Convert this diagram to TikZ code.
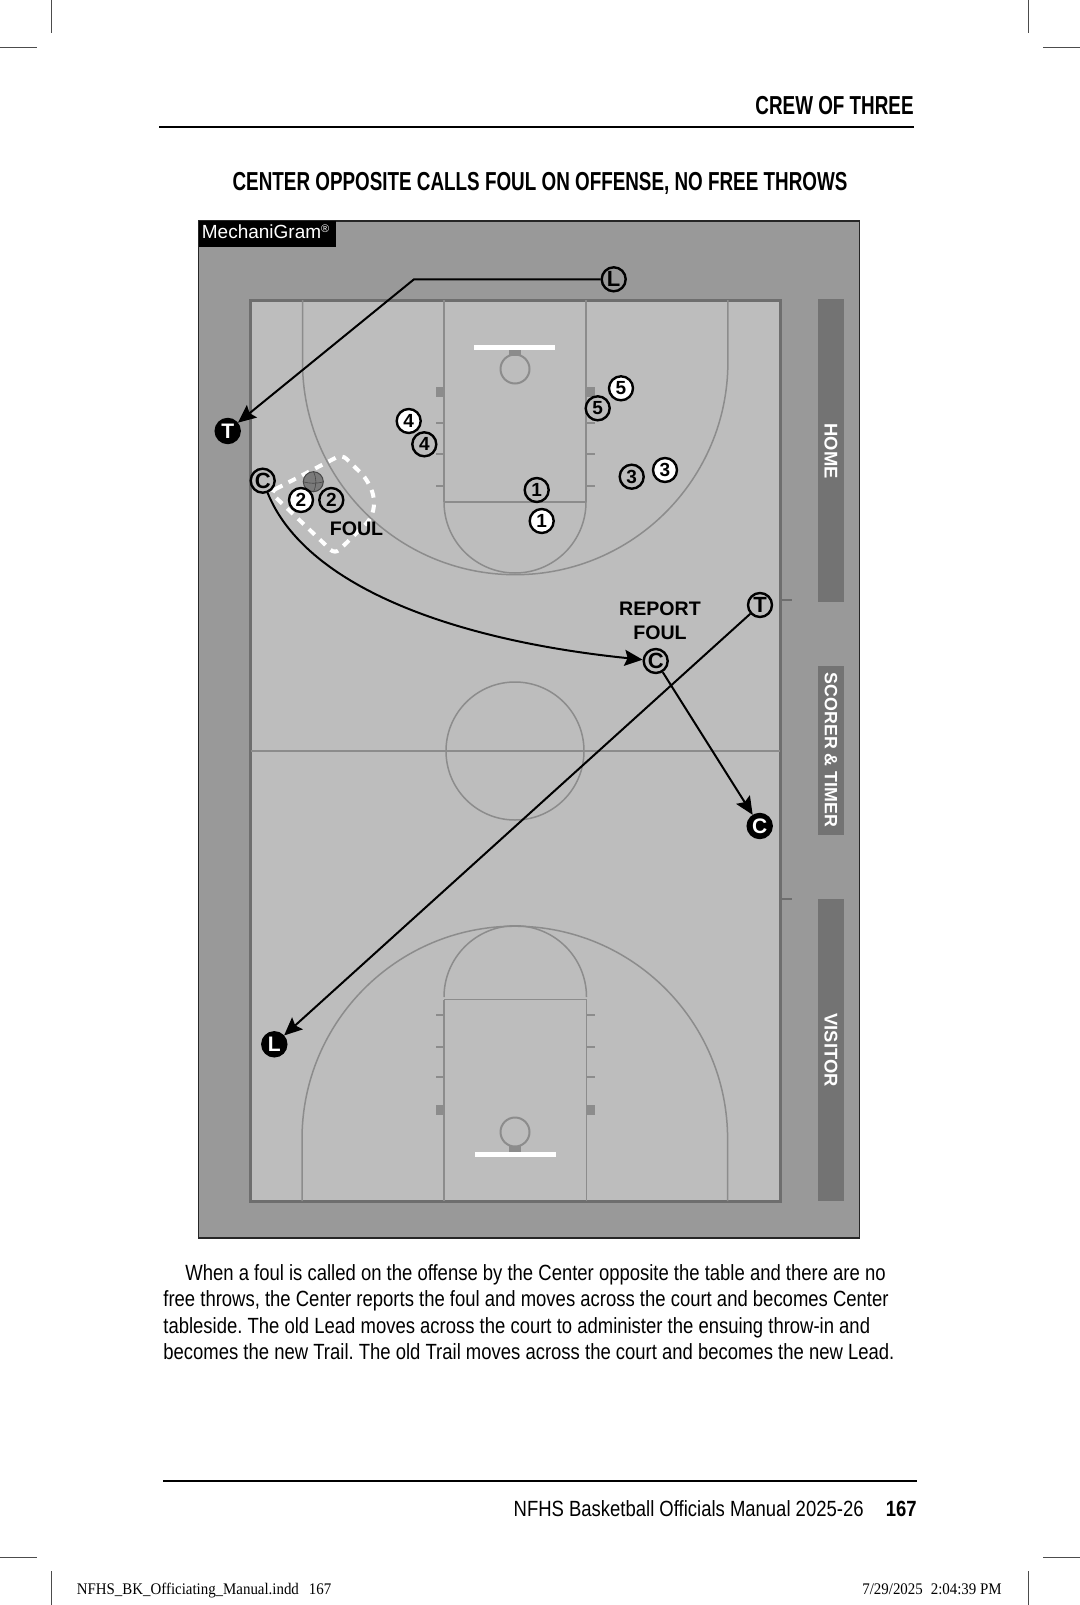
\documentclass[tikz,border=0pt]{standalone}
\usepackage{fontspec}
\usetikzlibrary{arrows.meta}
\setmainfont{Liberation Sans}
\newfontfamily\headfont[FakeStretch=0.725]{Liberation Sans}
\newfontfamily\condfont[FakeStretch=0.84]{Liberation Sans}
\newfontfamily\slugfont[FakeStretch=0.92]{Liberation Serif}
\definecolor{panelgray}{HTML}{999999}
\definecolor{courtgray}{HTML}{BDBDBD}
\definecolor{edgegray}{HTML}{6E6E6E}
\definecolor{linegray}{HTML}{8C8C8C}
\definecolor{bargray}{HTML}{737373}
\frenchspacing

\begin{document}
\begin{tikzpicture}[x=0.5pt,y=-0.5pt,>={Stealth[length=9pt,width=8pt,inset=1.5pt]}]
			\tikzstyle{openmark}=[circle,draw=black,line width=1.2pt,minimum size=12pt,inner sep=0pt,font=\bfseries\fontsize{9.5}{9.5}\selectfont]
			\tikzstyle{whitemark}=[openmark,fill=white]
			\tikzstyle{openletter}=[openmark,font=\bfseries\fontsize{11}{11}\selectfont]
			\tikzstyle{blackmark}=[openmark,fill=black,text=white,font=\bfseries\fontsize{10.5}{10.5}\selectfont]
			\tikzstyle{courtline}=[draw=linegray,line width=0.75pt]
			\tikzstyle{block}=[fill=linegray,draw=none]
			\tikzstyle{board}=[fill=white,draw=none]
			\tikzstyle{barlabel}=[text=white,rotate=-90,font=\bfseries\fontsize{9.2}{9.2}\selectfont]
			\tikzstyle{calllabel}=[font=\bfseries\fontsize{9.8}{11.8}\selectfont,align=center]
			\tikzstyle{bodyline}=[anchor=base west,inner sep=0pt,font=\condfont\fontsize{11}{13}\selectfont]
			\tikzstyle{headline}=[anchor=base,inner sep=0pt,font=\headfont\bfseries\fontsize{13}{15}\selectfont]
			\tikzstyle{footline}=[anchor=base east,inner sep=0pt,font=\condfont\fontsize{11}{13}\selectfont]
			\tikzstyle{slugline}=[anchor=base west,inner sep=0pt,font=\slugfont\fontsize{8.1}{9}\selectfont]
			\tikzstyle{trim}=[draw=black!70,line width=0.3pt]
			\tikzstyle{move}=[draw=black,line width=1pt]
			\useasboundingbox (0,0) rectangle (1080,1605);
			\fill[white] (0,0) rectangle (1080,1605);
			% trim marks
			\draw[trim] (51,0) -- (51,33) (1028,0) -- (1028,33) (0,47) -- (37,47) (1043,47) -- (1080,47);
			\draw[trim] (51,1571) -- (51,1605) (1028,1571) -- (1028,1605) (0,1557) -- (37,1557) (1043,1557) -- (1080,1557);
			% page head
			\node[headline,anchor=base east] (crew) at (914,115) {CREW OF THREE};
			\draw[line width=1.2pt] (159,127) -- (914,127);
			\node[headline] (title) at (540,191) {CENTER OPPOSITE CALLS FOUL ON OFFENSE, NO FREE THROWS};
			% floor
			\draw[fill=panelgray,draw=black!85,line width=0.6pt] (198.5,221) rectangle (859.5,1238);
			\draw[fill=courtgray,draw=edgegray,line width=1.5pt] (250.7,300) rectangle (780,1201);
			\node[fill=black,text=white,anchor=north west,text width=65.5pt,align=left,inner xsep=1.5pt,inner ysep=0pt,minimum height=13pt,text height=8pt,text depth=3.5pt,font=\fontsize{9.5}{9.5}\selectfont] (logo) at (198.5,221) {MechaniGram\raisebox{3.2pt}{\fontsize{5.5}{5.5}\selectfont ®}};
			% side bars
			\fill[bargray] (818,299) rectangle (844,602);
			\fill[bargray] (818,666) rectangle (844,835);
			\fill[bargray] (818,899) rectangle (844,1201);
			\node[barlabel] (home) at (831,451) {HOME};
			\node[barlabel,font=\bfseries\fontsize{8.9}{8.9}\selectfont] (scorer) at (831,750) {SCORER \& TIMER};
			\node[barlabel] (visitor) at (831,1050) {VISITOR};
			\draw[edgegray,line width=0.6pt] (780,600) -- (792,600) (780,899) -- (792,899);
			% half line and circle
			\draw[courtline] (250.7,751) -- (780,751);
			\draw[courtline] (515,751) circle (69);
			% top end
			\draw[courtline] (444,300) -- (444,502) (586,300) -- (586,502) (444,502) -- (586,502);
			\draw[courtline] (444,502) arc[start angle=180,end angle=0,radius=71];
			\draw[courtline] (302.5,300) -- (302.5,362) arc[start angle=180,end angle=0,radius=212.7] -- (727.9,300);
			\fill[block] (509,350) rectangle (521,356);
			\draw[courtline,line width=1pt] (515,369) circle (14.5);
			\fill[board] (474,344.5) rectangle (555,349.5);
			\fill[block] (436,387) rectangle (444,397);
			\fill[block] (586,387) rectangle (594.5,397);
			\foreach \y in {423,454,486}{
				\draw[courtline,line width=1pt] (436,\y) -- (444,\y);
				\draw[courtline,line width=1pt] (586,\y) -- (595,\y);
			}
			% bottom end
			\draw[courtline] (444,1201) -- (444,999.5) (586.5,1201) -- (586.5,999.5) (444,999.5) -- (586.5,999.5);
			\draw[courtline] (444,997) arc[start angle=180,end angle=360,radius=71.25];
			\draw[courtline] (302,1201) -- (302,1139) arc[start angle=180,end angle=360,radius=212.8] -- (727.6,1201);
			\fill[block] (509,1146) rectangle (521,1152);
			\draw[courtline,line width=1pt] (515,1132) circle (14.5);
			\fill[board] (475,1152) rectangle (556,1157);
			\fill[block] (436,1105) rectangle (444,1115);
			\fill[block] (586.5,1105) rectangle (595,1115);
			\foreach \y in {1015,1047,1077}{
				\draw[courtline,line width=1pt] (436,\y) -- (444,\y);
				\draw[courtline,line width=1pt] (586.5,\y) -- (595,\y);
			}
			% foul ring
			\draw[white,line width=2pt,dash pattern=on 4pt off 3.5pt,rounded corners=3pt] (270,492) -- (342,454.5) -- (365,477) -- (373,492) -- (374.5,507) -- (370,520) -- (335,554) -- cycle;
			% ball
			\node[circle,fill=black!52,draw=black!72,line width=0.5pt,minimum size=10pt,inner sep=0pt] (ball) at (313.3,481.7) {};
			\draw[black!72,line width=0.3pt] (ball.west) to[bend right=15] (ball.east) (ball.north) to[bend left=25] (ball.south);
			% players
			\node[whitemark](twoa) at (301,500){2};
			\node[openmark](twob) at (331.3,500){2};
			\node[whitemark](foura) at (408.7,421){4};
			\node[openmark](fourb) at (424.3,444.3){4};
			\node[whitemark](fivea) at (621,388.3){5};
			\node[openmark](fiveb) at (597.7,408.3){5};
			\node[whitemark](threea) at (665,470){3};
			\node[openmark](threeb) at (631.7,476.7){3};
			\node[openmark](oneb) at (536.7,490){1};
			\node[whitemark](onea) at (541.7,521){1};
			% officials
			\node[openletter](leadold) at (613.7,279.3){L};
			\node[openletter](centerold) at (262.7,480.7){C};
			\node[openletter](trailold) at (760,605){T};
			\node[openletter](centermid) at (655.7,661){C};
			\node[blackmark](trailnew) at (227.7,431){T};
			\node[blackmark](centernew) at (759.7,826){C};
			\node[blackmark](leadnew) at (274.3,1044.3){L};
			\coordinate (leadbend) at (414,279.3);
			\path[->,move]
				(trailold) edge (leadnew)
				(centermid) edge (centernew);
			\draw[->,move] (leadold) -- (leadbend) -- (trailnew);
			\draw[->,move] (centerold) .. controls (305,585) and (450,640) .. (centermid);
			% call labels
			\node[calllabel] (foul) at (356.5,529) {FOUL};
			\node[calllabel] (report) at (660,621) {REPORT\\FOUL};
			% text below the floor
			\node[bodyline] (linea) at (185,1280) {When a foul is called on the offense by the Center opposite the table and there are no};
			\node[bodyline] (lineb) at (163,1306.5) {free throws, the Center reports the foul and moves across the court and becomes Center};
			\node[bodyline] (linec) at (163,1333) {tableside. The old Lead moves across the court to administer the ensuing throw-in and};
			\node[bodyline] (lined) at (163,1359.5) {becomes the new Trail. The old Trail moves across the court and becomes the new Lead.};
			% page foot
			\draw[line width=1.4pt] (163,1481) -- (917,1481);
			\node[footline] (manual) at (864,1516) {NFHS Basketball Officials Manual 2025-26};
			\node[footline,font=\condfont\bfseries\fontsize{11}{13}\selectfont] (pagenum) at (917,1516) {167};
			\node[slugline] (slugfile) at (76.5,1594) {NFHS\_BK\_Officiating\_Manual.indd\hspace{5pt}167};
			\node[slugline,anchor=base east] (slugdate) at (1002,1594) {7/29/2025\hspace{4pt}2:04:39 PM};
\end{tikzpicture}
\end{document}
